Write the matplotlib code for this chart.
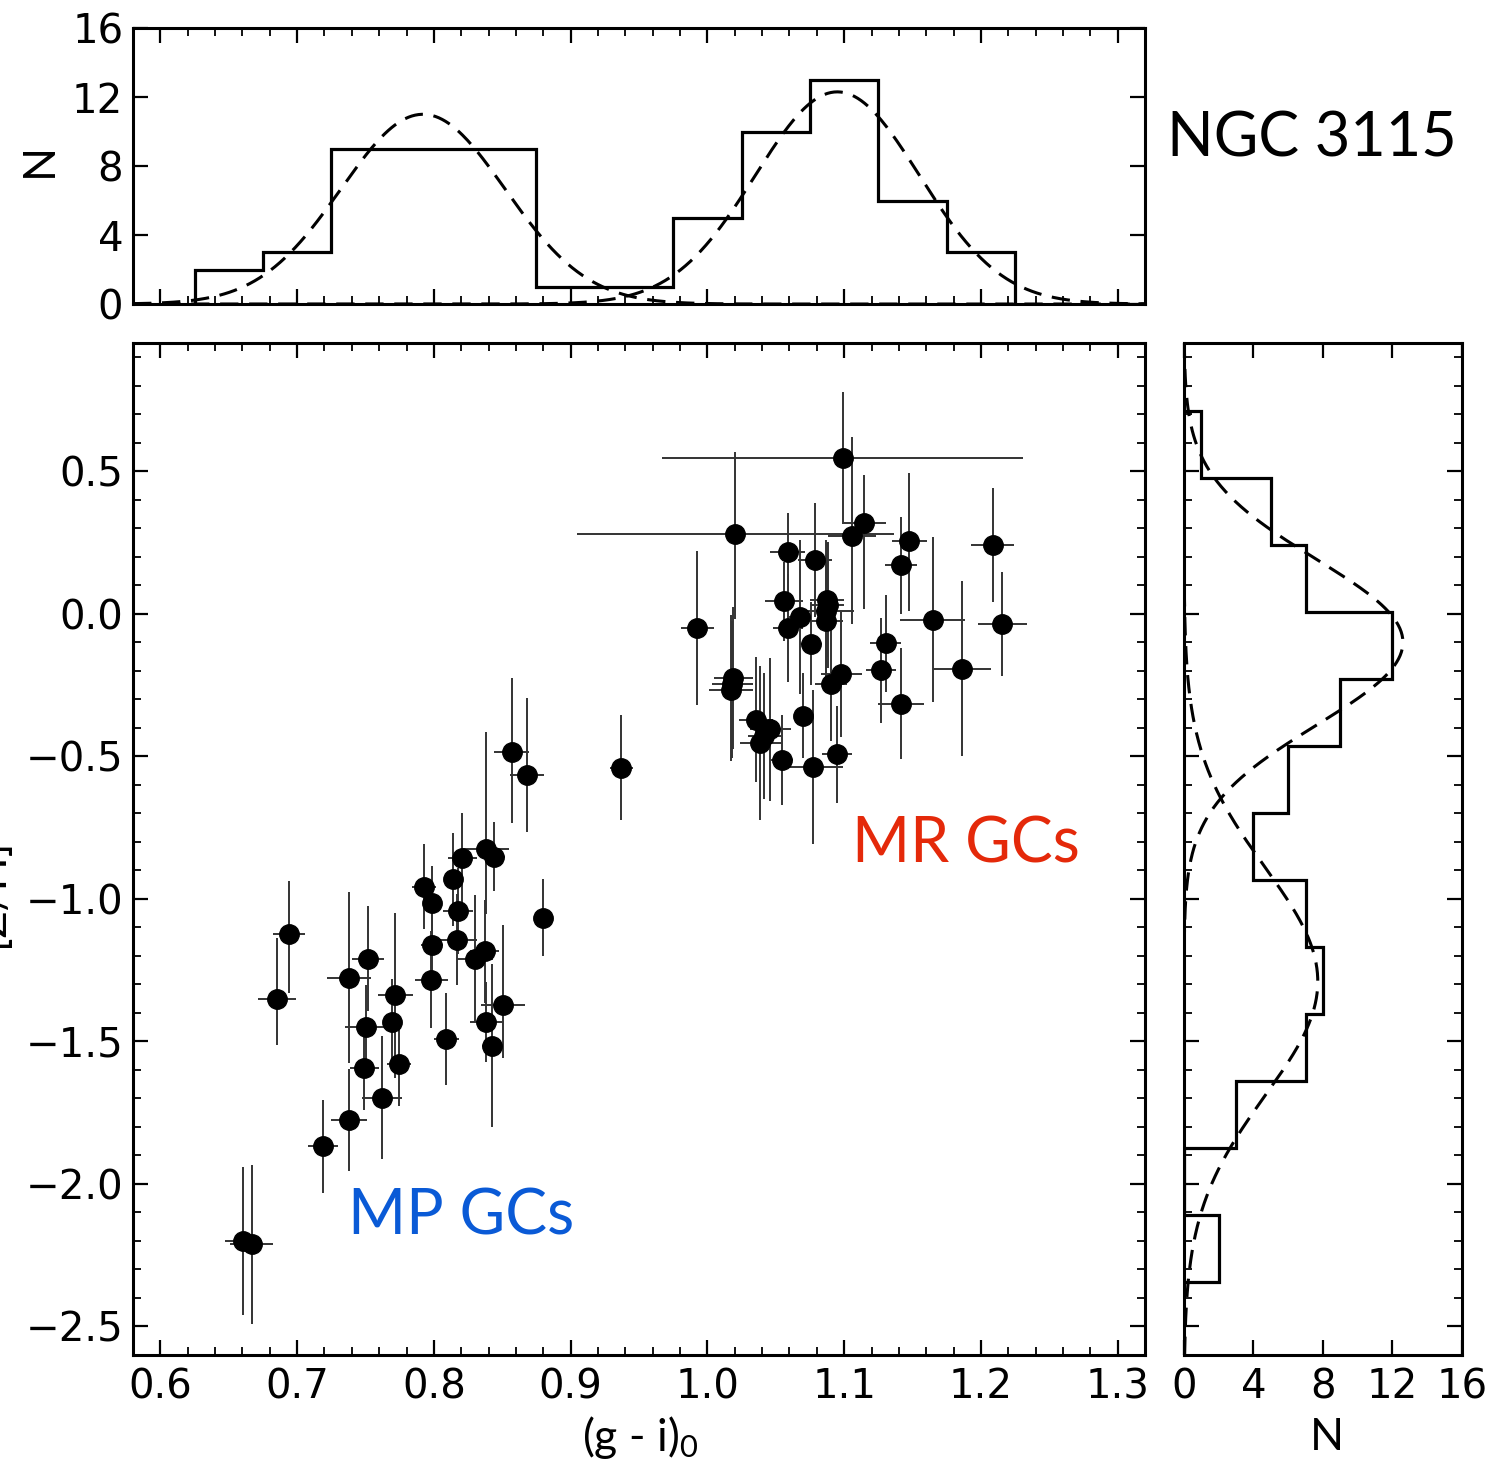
"""
NGC 3115 globular clusters: metallicity vs (g - i)_0 colour,
with marginal colour / metallicity histograms and Gaussian fits.

Output: out.png
"""

import matplotlib
matplotlib.use("Agg")

import numpy as np
import matplotlib.pyplot as plt
from matplotlib.ticker import MultipleLocator

plt.rcParams["mathtext.fontset"] = "custom"
plt.rcParams["mathtext.rm"] = "Lato"
plt.rcParams["mathtext.default"] = "rm"

LABEL_FONT = ["Lato", "DejaVu Sans"]
RED = "#e4290a"
BLUE = "#0a5ad6"

# --- GC data: colour, metallicity and errors ---
gi = [
    # metal-rich
    1.099, 1.0205, 0.9925, 0.937, 1.019, 1.018, 1.0173, 1.0587, 1.0787, 1.0587,
    1.0558, 1.0677, 1.0875, 1.088, 1.087, 1.087, 1.0757, 1.0977, 1.0904, 1.0697,
    1.0356, 1.0461, 1.0417, 1.0388, 1.0546, 1.0775, 1.0948, 1.1147, 1.1055, 1.1476,
    1.1415, 1.2085, 1.2155, 1.1646, 1.1305, 1.1269, 1.1865, 1.1415,
    # metal-poor
    0.8569, 0.868, 0.8379, 0.8437, 0.8209, 0.814, 0.7928, 0.7987, 0.8177, 0.7987,
    0.817, 0.8299, 0.8372, 0.7982, 0.8798, 0.6942, 0.6855, 0.738, 0.7519, 0.7719,
    0.8505, 0.7502, 0.769, 0.8092, 0.8379, 0.8427, 0.749, 0.7745, 0.7622, 0.738,
    0.719, 0.6606, 0.6667,
]
zh = [
    0.546, 0.280, -0.051, -0.540, -0.225, -0.245, -0.266, 0.216, 0.189, -0.050,
    0.043, -0.012, 0.048, 0.030, 0.010, -0.025, -0.105, -0.213, -0.248, -0.357,
    -0.371, -0.406, -0.429, -0.452, -0.513, -0.537, -0.493, 0.317, 0.274, 0.256,
    0.170, 0.242, -0.036, -0.021, -0.103, -0.198, -0.193, -0.315,
    -0.485, -0.566, -0.825, -0.852, -0.857, -0.932, -0.957, -1.014, -1.043, -1.163,
    -1.143, -1.210, -1.184, -1.283, -1.066, -1.122, -1.352, -1.277, -1.210, -1.338,
    -1.371, -1.451, -1.431, -1.492, -1.431, -1.515, -1.594, -1.580, -1.697, -1.775,
    -1.868, -2.200, -2.212,
]
gi_err = [
    0.132, 0.116, 0.012, 0.0085, 0.014, 0.015, 0.016, 0.0127, 0.0127, 0.011,
    0.014, 0.008, 0.0127, 0.012, 0.020, 0.012, 0.008, 0.015, 0.012, 0.006,
    0.0124, 0.015, 0.012, 0.015, 0.008, 0.022, 0.011, 0.016, 0.0175, 0.0129,
    0.012, 0.0158, 0.018, 0.0236, 0.0114, 0.011, 0.0212, 0.017,
    0.0127, 0.0127, 0.0168, 0.008, 0.0107, 0.006, 0.0088, 0.006, 0.0107, 0.0078,
    0.0144, 0.013, 0.0107, 0.012, 0.005, 0.0117, 0.014, 0.016, 0.0117, 0.0127,
    0.016, 0.0153, 0.006, 0.009, 0.0117, 0.0078, 0.0105, 0.0085, 0.0146, 0.013,
    0.011, 0.0134, 0.0156,
]
zh_err_lo = [
    0.224, 0.300, 0.270, 0.185, 0.250, 0.260, 0.250, 0.140, 0.200, 0.190,
    0.140, 0.270, 0.200, 0.220, 0.240, 0.220, 0.146, 0.220, 0.200, 0.150,
    0.220, 0.250, 0.220, 0.270, 0.157, 0.270, 0.170, 0.300, 0.310, 0.248,
    0.170, 0.200, 0.184, 0.290, 0.170, 0.184, 0.307, 0.196,
    0.250, 0.200, 0.227, 0.122, 0.157, 0.163, 0.149, 0.130, 0.150, 0.150,
    0.160, 0.224, 0.180, 0.170, 0.136, 0.210, 0.160, 0.300, 0.185, 0.290,
    0.187, 0.150, 0.150, 0.160, 0.140, 0.287, 0.148, 0.145, 0.216, 0.178,
    0.164, 0.260, 0.280,
]
zh_err_hi = [
    0.231, 0.288, 0.270, 0.185, 0.250, 0.220, 0.260, 0.136, 0.200, 0.190,
    0.140, 0.270, 0.200, 0.220, 0.250, 0.220, 0.146, 0.220, 0.200, 0.150,
    0.220, 0.250, 0.220, 0.270, 0.157, 0.270, 0.170, 0.170, 0.346, 0.238,
    0.170, 0.200, 0.184, 0.290, 0.170, 0.184, 0.307, 0.196,
    0.260, 0.270, 0.410, 0.122, 0.157, 0.163, 0.149, 0.130, 0.150, 0.150,
    0.160, 0.224, 0.180, 0.170, 0.136, 0.183, 0.216, 0.300, 0.185, 0.290,
    0.280, 0.150, 0.150, 0.160, 0.140, 0.287, 0.148, 0.145, 0.216, 0.178,
    0.164, 0.260, 0.280,
]

# --- histograms ---
gi_edges = [0.625, 0.675, 0.725, 0.775, 0.825, 0.875, 0.925,
            0.975, 1.025, 1.075, 1.125, 1.175, 1.225]
gi_counts = [2, 3, 9, 9, 9, 1, 1, 5, 10, 13, 6, 3]

zh_edges = [-2.345, -2.11, -1.875, -1.64, -1.405, -1.17, -0.935,
            -0.70, -0.465, -0.23, 0.005, 0.24, 0.475, 0.71]
zh_counts = [2, 0, 3, 7, 8, 7, 4, 6, 9, 12, 7, 5, 1]

# Gaussian fit parameters (amplitude, mean, sigma)
gi_fits = [(11.0, 0.792, 0.060), (12.3, 1.095, 0.060)]
zh_fits = [(7.7, -1.29, 0.40), (12.6, -0.10, 0.29)]

XLIM = (0.58, 1.32)
YLIM = (-2.6, 0.95)
DASH = (0, (6, 3.5))


def gauss(x, amp, mu, sig):
    return amp * np.exp(-0.5 * ((x - mu) / sig) ** 2)


def style_axis(ax):
    for sp in ax.spines.values():
        sp.set_linewidth(2.2)
    ax.tick_params(which="both", direction="in", top=True, right=True,
                   labelsize=29, color="k")
    ax.tick_params(which="major", length=11, width=1.6)
    ax.tick_params(which="minor", length=5.5, width=1.3)
    ax.tick_params(axis="x", pad=9)
    ax.tick_params(axis="y", pad=7)


fig = plt.figure(figsize=(15.10, 14.68), dpi=100)
ax_main = fig.add_axes([0.0881, 0.0770, 0.6702, 0.6894])
ax_top = fig.add_axes([0.0881, 0.7929, 0.6702, 0.1880])
ax_right = fig.add_axes([0.7841, 0.0770, 0.1841, 0.6894])

# --- main scatter ---
ax_main.errorbar(gi, zh, xerr=gi_err, yerr=[zh_err_lo, zh_err_hi],
                 fmt="o", color="k", ms=14, ecolor="#333333",
                 elinewidth=1.4, capsize=0, zorder=3)
ax_main.set_xlim(*XLIM)
ax_main.set_ylim(*YLIM)
ax_main.xaxis.set_major_locator(MultipleLocator(0.1))
ax_main.xaxis.set_minor_locator(MultipleLocator(0.02))
ax_main.yaxis.set_major_locator(MultipleLocator(0.5))
ax_main.yaxis.set_minor_locator(MultipleLocator(0.1))
style_axis(ax_main)

ax_main.text(1.106, -0.874, "MR GCs", color=RED, fontsize=45,
             family=LABEL_FONT, va="baseline", ha="left")
ax_main.text(0.7373, -2.177, "MP GCs", color=BLUE, fontsize=45,
             family=LABEL_FONT, va="baseline", ha="left")

# --- top histogram (colour) ---
ax_top.stairs(gi_counts, gi_edges, color="k", lw=2.3, baseline=0)
xx = np.linspace(XLIM[0], XLIM[1], 600)
for amp, mu, sig in gi_fits:
    ax_top.plot(xx, gauss(xx, amp, mu, sig), color="k", lw=2.2, ls=DASH)
ax_top.set_xlim(*XLIM)
ax_top.set_ylim(0, 16)
ax_top.xaxis.set_major_locator(MultipleLocator(0.1))
ax_top.xaxis.set_minor_locator(MultipleLocator(0.02))
ax_top.yaxis.set_major_locator(MultipleLocator(4))
style_axis(ax_top)
ax_top.tick_params(axis="x", labelbottom=False)

# --- right histogram (metallicity) ---
ax_right.stairs(zh_counts, zh_edges, color="k", lw=2.3, baseline=0,
                orientation="horizontal")
yy = np.linspace(YLIM[0], YLIM[1], 600)
for amp, mu, sig in zh_fits:
    ax_right.plot(gauss(yy, amp, mu, sig), yy, color="k", lw=2.2, ls=DASH)
ax_right.set_xlim(0, 16)
ax_right.set_ylim(*YLIM)
ax_right.xaxis.set_major_locator(MultipleLocator(4))
ax_right.yaxis.set_major_locator(MultipleLocator(0.5))
ax_right.yaxis.set_minor_locator(MultipleLocator(0.1))
style_axis(ax_right)
ax_right.tick_params(axis="y", labelleft=False)

# --- labels ---
fig.text(0.4238, 0.021, "(g - i)$_0$", fontsize=32, family=LABEL_FONT,
         ha="center", va="center")
fig.text(0.8788, 0.021, "N", fontsize=32, family=LABEL_FONT,
         ha="center", va="center")
fig.text(0.0262, 0.891, "N", fontsize=32, family=LABEL_FONT,
         rotation=90, ha="center", va="center")
# metallicity label sits mostly past the left edge, as in the original figure
fig.text(0.0070, 0.392, "[Z/H]", fontsize=32, family=LABEL_FONT,
         rotation=90, ha="right", va="center")
fig.text(0.7728, 0.8933, "NGC 3115", fontsize=44, family=LABEL_FONT,
         ha="left", va="baseline")

fig.savefig("out.png", dpi=100, facecolor="white")
